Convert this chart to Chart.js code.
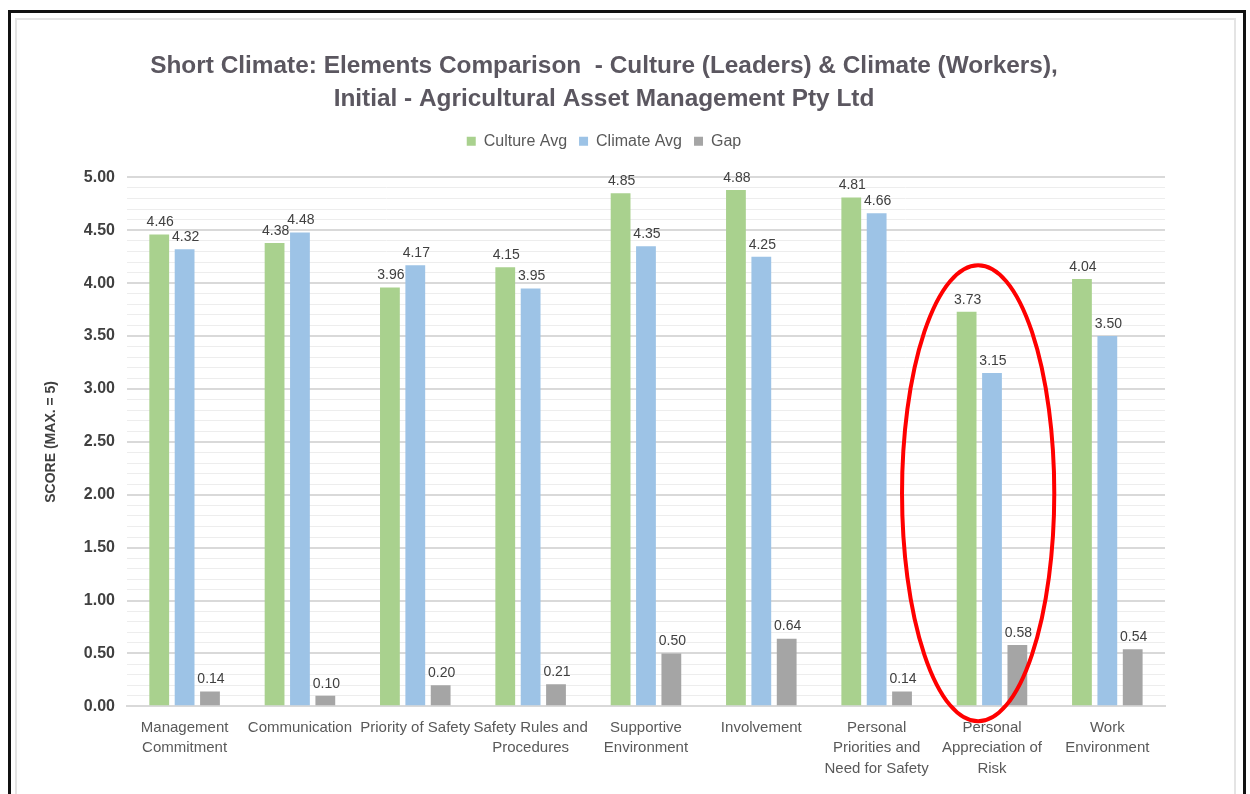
<!DOCTYPE html>
<html>
<head>
<meta charset="utf-8">
<script src="https://cdn.jsdelivr.net/npm/chart.js@4.4.0/dist/chart.umd.min.js"></script>
<style>
  body { margin: 0; background: #fff; width: 1250px; height: 794px; overflow: hidden; position: relative; }
  #frame { position: absolute; left: 8px; top: 10px; width: 1232px; height: 900px; border: 3px solid #111; }
  #box { position: absolute; left: 15px; top: 18px; width: 1217px; height: 800px; border: 2px solid #e4e4e4; }
  #chart { position: absolute; left: 15px; top: 18px; }
</style>
</head>
<body>
<div id="frame"></div>
<div id="box"></div>
<canvas id="chart" width="1190" height="774"></canvas>
<script>
// categories and values
const categories = [
  ["Management", "Commitment"],
  "Communication",
  "Priority of Safety",
  ["Safety Rules and", "Procedures"],
  ["Supportive", "Environment"],
  "Involvement",
  ["Personal", "Priorities and", "Need for Safety"],
  ["Personal", "Appreciation of", "Risk"],
  ["Work", "Environment"]
];
const cultureAvg = [4.46, 4.38, 3.96, 4.15, 4.85, 4.88, 4.81, 3.73, 4.04];
const climateAvg = [4.32, 4.48, 4.17, 3.95, 4.35, 4.25, 4.66, 3.15, 3.50];
const gapValues = [0.14, 0.10, 0.20, 0.21, 0.50, 0.64, 0.14, 0.58, 0.54];

// highlighted category (red ring)
const highlightIndex = 7;
const highlightTop = 4.17;

const sans = "'Liberation Sans', Arial, sans-serif";

// value labels above every bar
const barLabels = {
  id: "barLabels",
  afterDatasetsDraw(chart) {
    const ctx = chart.ctx;
    ctx.save();
    ctx.font = "14px " + sans;
    ctx.fillStyle = "#404040";
    ctx.textAlign = "center";
    ctx.textBaseline = "bottom";
    chart.data.datasets.forEach((ds, i) => {
      chart.getDatasetMeta(i).data.forEach((bar, j) => {
        ctx.fillText(ds.data[j].toFixed(2), bar.x + 1, bar.y - 5);
      });
    });
    ctx.restore();
  }
};

// extra room under the legend
const legendGap = {
  id: "legendGap",
  beforeInit(chart) {
    const fit = chart.legend.fit;
    chart.legend.fit = function () {
      fit.bind(chart.legend)();
      this.height += 18;
    };
  }
};

// red ellipse round the highlighted category
const ring = {
  id: "ring",
  afterDraw(chart) {
    const x = chart.scales.x, y = chart.scales.y;
    const step = x.getPixelForValue(1) - x.getPixelForValue(0);
    const top = y.getPixelForValue(highlightTop);
    const bottom = y.getPixelForValue(0) + 15;
    const ctx = chart.ctx;
    ctx.save();
    ctx.strokeStyle = "#ff0000";
    ctx.lineWidth = 4;
    ctx.beginPath();
    ctx.ellipse(x.getPixelForValue(highlightIndex) - step * 0.12, (top + bottom) / 2,
      step * 0.66, (bottom - top) / 2, 0, 0, Math.PI * 2);
    ctx.stroke();
    ctx.restore();
  }
};

new Chart(document.getElementById("chart"), {
  type: "bar",
  data: {
    labels: categories,
    datasets: [
      { label: "Culture Avg", data: cultureAvg, backgroundColor: "#a9d18e" },
      { label: "Climate Avg", data: climateAvg, backgroundColor: "#9dc3e6" },
      { label: "Gap", data: gapValues, backgroundColor: "#a5a5a5" }
    ]
  },
  options: {
    responsive: false,
    animation: false,
    categoryPercentage: 0.66,
    barPercentage: 0.78,
    layout: { padding: { left: 28, right: 40, top: 32, bottom: 2 } },
    plugins: {
      tooltip: { enabled: false },
      title: {
        display: true,
        text: [
          "Short Climate: Elements Comparison  - Culture (Leaders) & Climate (Workers),",
          "Initial - Agricultural Asset Management Pty Ltd"
        ],
        color: "#5b5760",
        font: { family: sans, size: 24.4, weight: "bold", lineHeight: 1.36 },
        padding: { top: 0, bottom: 5 }
      },
      legend: {
        labels: {
          boxWidth: 9,
          boxHeight: 9,
          color: "#595959",
          font: { family: sans, size: 16 },
          padding: 12
        }
      }
    },
    scales: {
      x: {
        grid: { display: false, drawTicks: false },
        border: { color: "#d9d9d9", width: 2 },
        ticks: {
          color: "#595959",
          font: { family: sans, size: 15, lineHeight: 1.37 },
          maxRotation: 0,
          autoSkip: false,
          padding: 11
        }
      },
      y: {
        min: 0,
        max: 5,
        border: { display: false },
        grid: {
          color: (c) => (Math.round(c.tick.value * 10) % 5 === 0 ? "#d9d9d9" : "#ededed"),
          lineWidth: (c) => (Math.round(c.tick.value * 10) % 5 === 0 ? 2 : 1),
          drawTicks: false
        },
        ticks: {
          stepSize: 0.1,
          autoSkip: false,
          color: "#404040",
          font: { family: sans, size: 16, weight: "bold" },
          padding: 12,
          callback: (v) => (Math.round(v * 10) % 5 === 0 ? v.toFixed(2) : "")
        },
        title: {
          display: true,
          text: "SCORE (MAX. = 5)",
          color: "#404040",
          font: { family: sans, size: 14, weight: "bold" },
          padding: { top: 0, bottom: 12 }
        }
      }
    }
  },
  plugins: [barLabels, legendGap, ring]
});
</script>
</body>
</html>
